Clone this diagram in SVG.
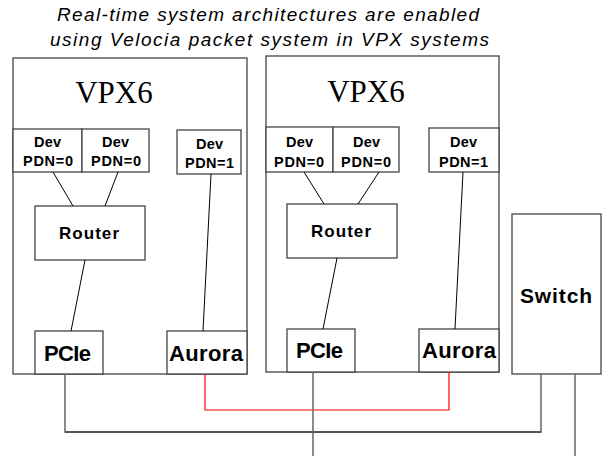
<svg xmlns="http://www.w3.org/2000/svg" width="602" height="456" viewBox="0 0 602 456">
<style>
.box{fill:#fff;stroke:#444;stroke-width:1.3}
.ln{fill:none;stroke:#000;stroke-width:1}
.gl{fill:none;stroke:#666;stroke-width:1.5}
.red{fill:none;stroke:#f00;stroke-width:1.2}
.t{font-family:"Liberation Sans",Arial,sans-serif;font-weight:bold;fill:#000;text-anchor:start}
.dev{font-size:14.5px}
.big{font-size:22px}
.vpx{font-family:"Liberation Serif","Times New Roman",serif;font-size:31px;fill:#000;text-anchor:middle}
.title{font-family:"Liberation Sans",Arial,sans-serif;font-style:italic;font-size:19px;fill:#000}
</style>
<rect width="602" height="456" fill="#fff"/>
<g id="title">
<text class="title" x="57" y="21" textLength="422" lengthAdjust="spacing">Real-time system architectures are enabled</text>
<text class="title" x="50" y="46" textLength="439" lengthAdjust="spacing">using Velocia packet system in VPX systems</text>
</g>
<g id="vpx6-a">
<rect class="box" x="13" y="58" width="234" height="316"/>
<text class="vpx" x="114" y="103">VPX6</text>
</g>
<g id="dev-a1"><rect class="box" x="13" y="129" width="69" height="43"/>
<text class="t dev" x="34" y="147" textLength="27" lengthAdjust="spacing">Dev</text>
<text class="t dev" x="23" y="166" textLength="50" lengthAdjust="spacing">PDN=0</text></g>
<g id="dev-a2"><rect class="box" x="82" y="129" width="67" height="43"/>
<text class="t dev" x="102" y="147" textLength="27" lengthAdjust="spacing">Dev</text>
<text class="t dev" x="91" y="166" textLength="50" lengthAdjust="spacing">PDN=0</text></g>
<g id="dev-a3"><rect class="box" x="177" y="130" width="64" height="44"/>
<text class="t dev" x="196" y="149" textLength="27" lengthAdjust="spacing">Dev</text>
<text class="t dev" x="185" y="168" textLength="49" lengthAdjust="spacing">PDN=1</text></g>
<g id="router-a"><rect class="box" x="35" y="206" width="110" height="54"/>
<text class="t" style="font-size:17px" x="59" y="239" textLength="60" lengthAdjust="spacing">Router</text></g>
<g id="pcie-a"><rect class="box" x="35" y="331" width="68" height="43"/>
<text class="t big" x="44" y="361" textLength="47" lengthAdjust="spacing">PCIe</text></g>
<g id="aurora-a"><rect class="box" x="167" y="331" width="80" height="43"/>
<text class="t big" x="169" y="361" textLength="74" lengthAdjust="spacing">Aurora</text></g>

<g id="vpx6-b">
<rect class="box" x="266" y="56" width="233" height="316"/>
<text class="vpx" x="366" y="102">VPX6</text>
</g>
<g id="dev-b1"><rect class="box" x="266" y="127" width="67" height="45"/>
<text class="t dev" x="286" y="147" textLength="27" lengthAdjust="spacing">Dev</text>
<text class="t dev" x="274" y="167" textLength="50" lengthAdjust="spacing">PDN=0</text></g>
<g id="dev-b2"><rect class="box" x="333" y="127" width="66" height="45"/>
<text class="t dev" x="353" y="147" textLength="27" lengthAdjust="spacing">Dev</text>
<text class="t dev" x="341" y="167" textLength="50" lengthAdjust="spacing">PDN=0</text></g>
<g id="dev-b3"><rect class="box" x="429" y="128" width="70" height="44"/>
<text class="t dev" x="450" y="147" textLength="27" lengthAdjust="spacing">Dev</text>
<text class="t dev" x="439" y="167" textLength="49" lengthAdjust="spacing">PDN=1</text></g>
<g id="router-b"><rect class="box" x="287" y="204" width="110" height="54"/>
<text class="t" style="font-size:17px" x="311" y="237" textLength="60" lengthAdjust="spacing">Router</text></g>
<g id="pcie-b"><rect class="box" x="287" y="329" width="68" height="43"/>
<text class="t big" x="296" y="358" textLength="47" lengthAdjust="spacing">PCIe</text></g>
<g id="aurora-b"><rect class="box" x="419" y="329" width="80" height="43"/>
<text class="t big" x="422" y="358" textLength="74" lengthAdjust="spacing">Aurora</text></g>

<g id="switch"><rect class="box" x="512" y="214" width="89" height="160"/>
<text class="t" style="font-size:21px" x="520" y="303" textLength="72" lengthAdjust="spacing">Switch</text></g>

<g id="connectors">
<line class="ln" x1="53" y1="172" x2="73" y2="206"/>
<line class="ln" x1="118" y1="172" x2="105" y2="206"/>
<line class="ln" x1="85" y1="260" x2="71" y2="331"/>
<line class="ln" x1="211" y1="174" x2="203" y2="331"/>
<line class="ln" x1="304" y1="172" x2="324" y2="204"/>
<line class="ln" x1="379" y1="172" x2="358" y2="204"/>
<line class="ln" x1="337" y1="258" x2="323" y2="329"/>
<line class="ln" x1="463" y1="172" x2="455" y2="329"/>
<polyline class="red" points="205,374 205,410 449,410 449,372"/>
<polyline class="gl" points="65,374 65,432 541,432 541,374"/>
<line class="ln" x1="65" y1="432" x2="541" y2="432" style="stroke:#222"/>
<line class="gl" x1="313" y1="372" x2="313" y2="456"/>
<line class="gl" x1="575" y1="374" x2="575" y2="456"/>
</g>
</svg>
